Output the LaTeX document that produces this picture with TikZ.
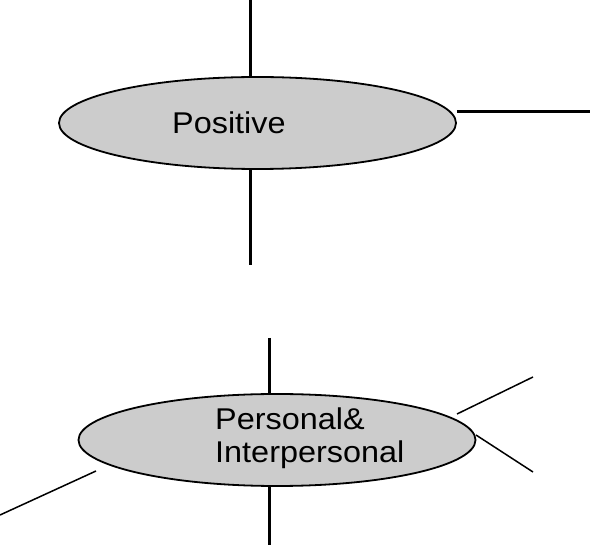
\documentclass[tikz,border=0pt]{standalone}
\usepackage{fontspec}
\setmainfont{Liberation Sans}
\usetikzlibrary{shapes}

\begin{document}
\begin{tikzpicture}[x=1pt, y=-1pt,
        blob/.style = {draw, ellipse, fill=black!20, line width=1.8pt, minimum width=397pt, minimum height=92pt, inner sep=0pt},
        word/.style = {font=\fontsize{30}{33}\selectfont, align=left, inner sep=0pt, xscale=1.08, transform shape},
        spoke/.style = {line width=3pt},
        twig/.style = {line width=1.5pt}]
                \useasboundingbox (0,0) rectangle (590,545);

                \node[blob] at (257.5, 123) (pos) {};
                \node[word, anchor=base west] at (172, 133.3) (postext) {Positive};

                \node[blob] at (277, 440) (per) {};
                \node[word, anchor=base west] at (215, 463) (pertext) {Personal\&\\Interpersonal};

                \coordinate (ptop) at (250.7, 0);
                \coordinate (pbot) at (250.7, 265);
                \coordinate (pright) at (590, 112);
                \draw[spoke] (ptop) -- (ptop |- pos.north);
                \draw[spoke] (pos.south -| pbot) -- (pbot);
                \draw[spoke] (pos.east |- pright) -- (pright);

                \coordinate (qtop) at (269, 338);
                \coordinate (qbot) at (269, 545);
                \coordinate (qne) at (457, 414);
                \coordinate (qnefar) at (533, 377);
                \coordinate (qse) at (476, 435);
                \coordinate (qsefar) at (533, 472);
                \coordinate (qw) at (96, 471);
                \coordinate (qwfar) at (0, 515);
                \draw[spoke] (qtop) -- (qtop |- per.north);
                \draw[spoke] (per.south -| qbot) -- (qbot);
                \draw[twig] (qne) -- (qnefar);
                \draw[twig] (qse) -- (qsefar);
                \draw[twig] (qw) -- (qwfar);
            \end{tikzpicture}
\end{document}
